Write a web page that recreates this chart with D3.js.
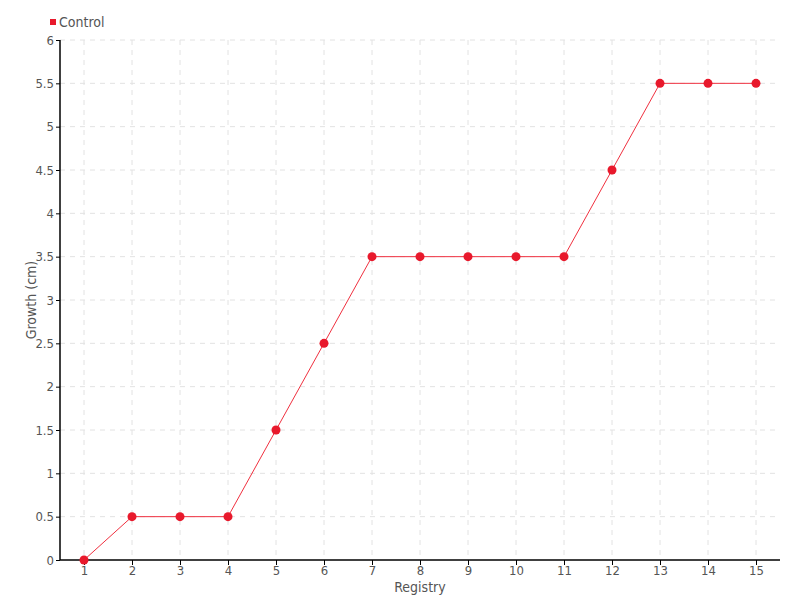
<!DOCTYPE html>
<html><head><meta charset="utf-8">
<script src="https://cdn.jsdelivr.net/npm/d3@7"></script>
<style>
body{margin:0;background:#fff;}
text{font-family:"DejaVu Sans Condensed","Liberation Sans Narrow",sans-serif;fill:#555;}
</style></head><body>
<svg id="c" width="800" height="600"></svg>
<script>
const categories = [1,2,3,4,5,6,7,8,9,10,11,12,13,14,15];
const controlValues = [0,0.5,0.5,0.5,1.5,2.5,3.5,3.5,3.5,3.5,3.5,4.5,5.5,5.5,5.5];
const yTicks = [0,0.5,1,1.5,2,2.5,3,3.5,4,4.5,5,5.5,6];
const seriesName = "Control";

const svg = d3.select("#c");
const m = {l:60, r:20, t:40, b:40};
const W = 800, H = 600;
const x = d3.scalePoint().domain(categories).range([m.l, W-m.r]).padding(0.5);
const y = d3.scaleLinear().domain([0,6]).range([H-m.b, m.t]);

// grid
const g = svg.append("g");
g.selectAll("line.h").data(yTicks.slice(1)).enter().append("line")
  .attr("x1", m.l).attr("x2", W-m.r).attr("y1", d=>y(d)).attr("y2", d=>y(d))
  .attr("stroke","#e2e2e2").attr("stroke-dasharray","5,5");
g.selectAll("line.v").data(categories).enter().append("line")
  .attr("x1", d=>x(d)).attr("x2", d=>x(d)).attr("y1", m.t).attr("y2", H-m.b)
  .attr("stroke","#e2e2e2").attr("stroke-dasharray","5,5");

// axes
const xa = svg.append("g").attr("transform",`translate(0,${H-m.b})`)
  .call(d3.axisBottom(x).tickSize(5).tickPadding(1));
const ya = svg.append("g").attr("transform",`translate(${m.l},0)`)
  .call(d3.axisLeft(y).tickValues(yTicks).tickSize(4).tickPadding(2).tickFormat(d3.format("")));
[xa,ya].forEach(a=>{
  a.select(".domain").attr("stroke","#000").attr("stroke-width",1.5);
  a.selectAll(".tick line").attr("stroke","#000");
  a.selectAll("text").style("font-size","13px").attr("fill","#555");
});
xa.select(".domain").attr("d",`M${m.l},0H${W-m.r}`);
ya.select(".domain").attr("d",`M0,${m.t}V${H-m.b}`);

// line
svg.append("path").datum(controlValues)
  .attr("fill","none").attr("stroke","#f0303f").attr("stroke-width",1)
  .attr("d", d3.line().x((d,i)=>x(categories[i])).y(d=>y(d)));
svg.selectAll("circle.p").data(controlValues).enter().append("circle")
  .attr("cx",(d,i)=>x(categories[i])).attr("cy",d=>y(d)).attr("r",4.5)
  .attr("fill","#e8192c");

// labels
svg.append("text").attr("x",420).attr("y",592).attr("text-anchor","middle")
  .style("font-size","14px").text("Registry");
svg.append("text").attr("transform","translate(36,300) rotate(-90)").attr("text-anchor","middle")
  .style("font-size","14px").text("Growth (cm)");

// legend
svg.append("rect").attr("x",50).attr("y",19).attr("width",6).attr("height",6).attr("fill","#e8192c");
svg.append("text").attr("x",59).attr("y",27).style("font-size","14px").text(seriesName);
</script></body></html>
